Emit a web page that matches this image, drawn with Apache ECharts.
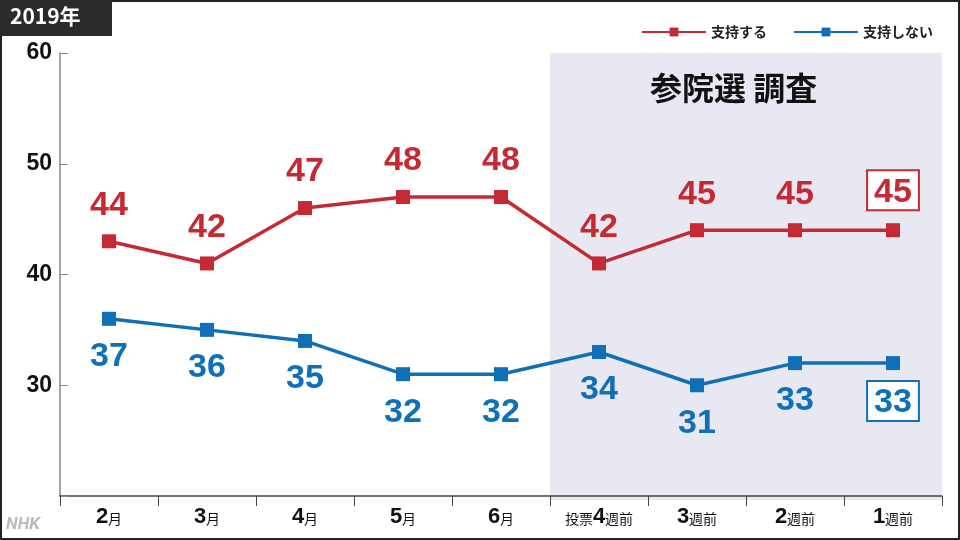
<!DOCTYPE html>
<html><head><meta charset="utf-8">
<script src="https://cdn.jsdelivr.net/npm/echarts@6/dist/echarts.min.js"></script>
<style>html,body{margin:0;background:#fff}#main{width:960px;height:540px}</style>
</head><body><div id="main"></div>
<script>
const categories = ['2月', '3月', '4月', '5月', '6月', '投票4週前', '3週前', '2週前', '1週前']
const supportValues = [43, 41, 46, 47, 47, 41, 44, 44, 44]   // plotted positions
const supportLabels = [44, 42, 47, 48, 48, 42, 45, 45, 45]   // printed numbers
const opposeValues = [36, 35, 34, 31, 31, 33, 30, 32, 32]
const opposeLabels = [37, 36, 35, 32, 32, 34, 31, 33, 33]
const yTicks = [30, 40, 50, 60]

const RED = '#c52a32', BLUE = '#0f70b7'
const NUMFONT = '"Liberation Sans", Arial, sans-serif'
const last = categories.length - 1

function catLabel(v) {
  const m = v.match(/^(\D*)(\d+)(.*)$/)
  return (m[1] ? '{s|' + m[1] + '}' : '') + '{b|' + m[2] + '}{s|' + m[3] + '}'
}
function numLabel(labels, color, pos) {
  return {
    show: true, position: pos, distance: pos === 'top' ? 12 : 14,
    fontSize: 34, fontWeight: 'bold', color: color, fontFamily: NUMFONT,
    formatter: p => labels[p.dataIndex] + '',
  }
}
function boxed(values, color, pos) {
  return values.map((v, i) => i === last ? {
    value: v,
    label: { borderColor: color, borderWidth: 2, padding: [4, 6, 0, 6], backgroundColor: '#fff',
      distance: pos === 'top' ? 14 : 12 }
  } : v)
}

let myChart = echarts.init(document.getElementById('main'))
myChart.setOption({
  backgroundColor: '#fff',
  animation: false,
  graphic: [
    { type: 'rect', shape: { x: 550, y: 53, width: 392, height: 447 }, style: { fill: '#e8e8f2' }, z: -1 },
    { type: 'text', left: 650, top: 72, style: { text: '参院選 調査', font: 'bold 32px "Noto Sans CJK JP"', fill: '#111' } },
    { type: 'rect', shape: { x: 1, y: 1, width: 958, height: 538 }, style: { fill: 'none', stroke: '#222', lineWidth: 2 } },
    { type: 'rect', shape: { x: 0, y: 0, width: 112, height: 36 }, style: { fill: '#2b2b2b' } },
    { type: 'text', left: 10, top: 6, style: { text: '2019年', font: 'bold 21px "Noto Sans CJK JP"', fill: '#fff' } },
    { type: 'text', left: 6, top: 516, style: { text: 'NHK', font: 'italic bold 17px Roboto', fill: '#bbb' } },
  ],
  legend: {
    right: 22, top: 20, itemWidth: 64, itemHeight: 11, itemGap: 26,
    textStyle: { fontSize: 14, fontWeight: 'bold', color: '#222', fontFamily: 'Noto Sans CJK JP' },
    data: ['支持する', '支持しない'],
  },
  grid: { left: 60, right: 18, top: 53, bottom: 44 },
  xAxis: {
    type: 'category', data: categories, boundaryGap: true,
    axisLine: { lineStyle: { color: '#444', width: 1.5 } },
    axisTick: { show: true, length: 10, interval: 0, lineStyle: { color: '#444' } },
    axisLabel: {
      margin: 10, interval: 0, formatter: catLabel, color: '#111',
      rich: {
        b: { fontSize: 22, fontWeight: 'bold', fontFamily: NUMFONT, color: '#111' },
        s: { fontSize: 14, fontFamily: 'Noto Sans CJK JP', color: '#111', padding: [4, 0, 0, 0] },
      },
    },
  },
  yAxis: {
    type: 'value', min: 20, max: 60, interval: 10,
    axisLine: { show: true, lineStyle: { color: '#888', width: 1.5 } },
    axisTick: { show: true, length: 8, inside: true, lineStyle: { color: '#888' } },
    splitLine: { show: false },
    axisLabel: {
      fontSize: 23, fontWeight: 'bold', color: '#111', fontFamily: NUMFONT, margin: 8,
      formatter: v => yTicks.includes(v) ? v : '',
    },
  },
  series: [
    {
      name: '支持する', type: 'line', data: boxed(supportValues, RED, 'top'),
      color: RED, lineStyle: { width: 3.5 }, symbol: 'rect', symbolSize: 14,
      label: numLabel(supportLabels, RED, 'top'),
    },
    {
      name: '支持しない', type: 'line', data: boxed(opposeValues, BLUE, 'bottom'),
      color: BLUE, lineStyle: { width: 3.5 }, symbol: 'rect', symbolSize: 14,
      label: numLabel(opposeLabels, BLUE, 'bottom'),
    },
  ],
})
</script></body></html>
